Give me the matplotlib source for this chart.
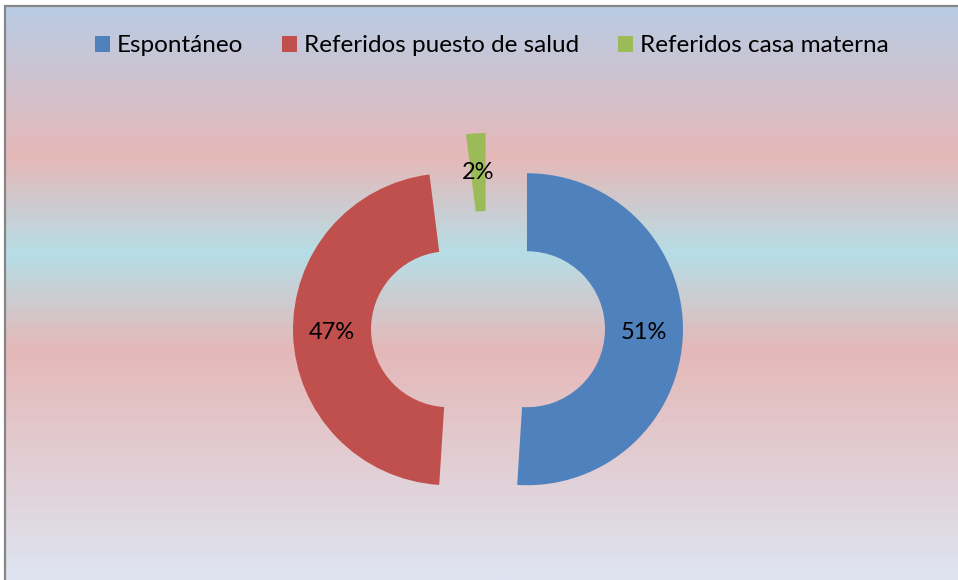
import numpy as np
import matplotlib
matplotlib.use('Agg')
import matplotlib.pyplot as plt
from matplotlib.colors import LinearSegmentedColormap
from matplotlib.patches import Patch, Rectangle

categories = ['Espontáneo', 'Referidos puesto de salud', 'Referidos casa materna']
values = [51, 47, 2]
colors = ['#4F81BD', '#C0504D', '#9BBB59']

W, H = 958, 580
plt.rcParams['font.family'] = ['Lato', 'DejaVu Sans']

fig = plt.figure(figsize=(W / 100, H / 100), dpi=100)
ax = fig.add_axes([0, 0, 1, 1])

# background gradient (top -> bottom)
stops = [(0.0, (185, 204, 228)), (0.26, (230, 184, 184)), (0.43, (182, 222, 230)),
         (0.60, (229, 184, 184)), (1.0, (222, 228, 240))]
cmap = LinearSegmentedColormap.from_list(
    'bg', [(p, tuple(c / 255 for c in rgb)) for p, rgb in stops])
grad = np.linspace(0, 1, 400).reshape(-1, 1)
ax.imshow(grad, cmap=cmap, aspect='auto', extent=(6, W, 0, H - 7), zorder=0)
ax.add_patch(Rectangle((5.5, -10), W + 20, H - 6 + 10, fill=False,
                       edgecolor='#868686', linewidth=1.6, zorder=1))

R = 156
wedges, texts, autotexts = ax.pie(
    values, colors=colors, startangle=90, counterclock=False,
    explode=[0.25 * R] * 3, radius=R, center=(488, H - 328),
    autopct='%1.0f%%', pctdistance=0.75,
    wedgeprops=dict(width=R / 2, edgecolor='none'),
    textprops=dict(fontsize=17, color='black'))
for w in wedges:
    w.set_zorder(2)
for t in autotexts:
    t.set_zorder(3)

ax.set_xlim(0, W)
ax.set_ylim(0, H)
ax.set_aspect('auto')
ax.axis('off')

handles = [Patch(facecolor=c, edgecolor='none') for c in colors]
fig.legend(handles, categories, loc='center', ncol=3,
           bbox_to_anchor=(492 / W, 1 - 46 / H), frameon=False,
           fontsize=17.5, handlelength=0.6, handleheight=0.6,
           handletextpad=0.3, columnspacing=1.6)

fig.savefig('out.png', dpi=100)
